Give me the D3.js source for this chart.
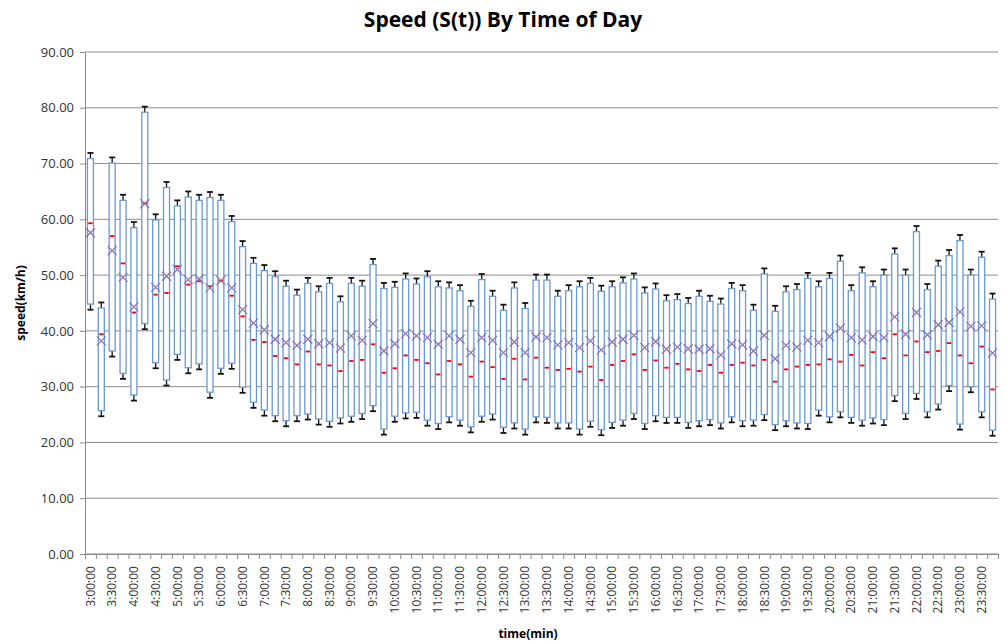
<!DOCTYPE html>
<html>
<head>
<meta charset="utf-8">
<script src="https://cdn.jsdelivr.net/npm/d3@7"></script>
<style>
  body { margin: 0; background: #fff; }
  svg text { font-family: "Open Sans", sans-serif; }
</style>
</head>
<body>
<div id="chart"></div>
<script>
// time of day categories, one box every 15 minutes
const times = [
  "3:00:00","3:15:00","3:30:00","3:45:00","4:00:00","4:15:00","4:30:00","4:45:00",
  "5:00:00","5:15:00","5:30:00","5:45:00","6:00:00","6:15:00","6:30:00","6:45:00",
  "7:00:00","7:15:00","7:30:00","7:45:00","8:00:00","8:15:00","8:30:00","8:45:00",
  "9:00:00","9:15:00","9:30:00","9:45:00","10:00:00","10:15:00","10:30:00","10:45:00",
  "11:00:00","11:15:00","11:30:00","11:45:00","12:00:00","12:15:00","12:30:00","12:45:00",
  "13:00:00","13:15:00","13:30:00","13:45:00","14:00:00","14:15:00","14:30:00","14:45:00",
  "15:00:00","15:15:00","15:30:00","15:45:00","16:00:00","16:15:00","16:30:00","16:45:00",
  "17:00:00","17:15:00","17:30:00","17:45:00","18:00:00","18:15:00","18:30:00","18:45:00",
  "19:00:00","19:15:00","19:30:00","19:45:00","20:00:00","20:15:00","20:30:00","20:45:00",
  "21:00:00","21:15:00","21:30:00","21:45:00","22:00:00","22:15:00","22:30:00","22:45:00",
  "23:00:00","23:15:00","23:30:00","23:45:00"
];

// box bottom / top (km/h)
const boxLow = [
  44.8,25.7,36.4,32.4,28.5,41.3,34.3,31.2,35.8,33.4,34.1,29.0,33.3,34.2,29.9,27.2,
  25.8,24.8,23.9,24.8,25.1,24.2,23.8,24.4,24.7,25.2,26.6,22.4,24.7,25.3,25.4,24.0,
  23.4,24.6,24.0,22.8,24.7,25.1,22.7,23.5,22.4,24.6,24.5,23.5,23.5,22.4,23.8,22.3,
  23.6,24.0,25.2,23.4,24.8,24.5,24.5,23.6,23.9,24.1,23.5,24.6,23.9,24.0,25.0,23.2,
  23.9,23.5,23.4,25.8,24.6,25.5,24.5,24.0,24.4,24.1,28.4,25.2,28.8,25.5,26.9,30.2,
  23.3,30.0,25.5,22.2
];
const boxHigh = [
  70.9,44.1,70.1,63.4,58.5,79.2,59.9,65.7,62.4,64.0,63.4,63.9,63.4,59.6,55.1,52.1,
  50.8,49.7,48.0,46.4,48.5,47.0,48.5,45.2,48.5,48.0,51.9,47.6,47.8,49.3,48.4,49.7,
  47.9,47.7,47.2,44.4,49.2,46.2,43.7,47.7,44.0,49.1,49.1,46.2,47.2,47.9,48.5,47.1,
  47.9,48.6,49.3,46.8,47.5,45.4,45.6,44.9,46.2,45.3,44.8,47.6,47.2,43.7,50.2,43.5,
  47.0,47.4,49.4,47.9,49.4,52.5,47.2,50.4,47.9,50.0,53.8,50.0,57.8,47.4,51.6,53.5,
  56.2,50.0,53.2,45.7
];
const medians = [
  59.3,39.4,57.0,52.1,43.3,62.9,46.5,46.8,51.6,48.3,48.9,48.0,49.0,46.3,42.6,38.4,
  38.0,35.5,35.1,34.0,36.3,34.0,33.8,32.8,34.6,34.8,37.6,32.5,33.3,35.6,34.8,34.2,
  32.2,34.6,34.0,31.8,34.5,33.5,31.4,35.0,31.3,35.2,33.4,33.0,33.2,32.7,33.6,31.2,
  33.9,34.6,35.8,33.0,34.7,33.4,34.1,33.1,32.8,33.9,32.5,33.9,34.3,33.8,34.8,30.9,
  33.1,33.6,33.9,34.0,34.9,34.5,35.7,33.8,36.2,35.1,39.4,35.6,38.1,36.2,36.4,37.8,
  35.6,34.2,37.2,29.5
];
const means = [
  57.6,38.2,54.4,49.6,44.3,62.8,47.8,49.8,51.0,49.2,49.3,47.7,49.0,47.7,43.8,41.4,
  40.2,38.5,37.9,37.4,38.5,37.7,37.9,36.9,39.1,38.3,41.3,36.4,37.7,39.5,39.1,38.8,
  37.6,39.1,38.5,36.1,38.8,38.3,36.1,38.0,36.1,38.9,38.8,37.5,37.9,37.0,38.2,36.6,
  38.0,38.5,39.2,37.0,38.1,36.7,37.1,36.8,36.7,36.8,35.7,37.7,37.5,36.4,39.2,35.0,
  37.4,37.1,38.3,37.9,39.0,40.5,38.8,38.4,39.0,38.8,42.5,39.4,43.3,39.3,41.1,41.5,
  43.4,40.8,40.9,36.0
];
// error bar length beyond the box (km/h)
const capExtra = 1.0;

const yTicks = [0, 10, 20, 30, 40, 50, 60, 70, 80, 90];

const W = 1006, H = 644;
const plotLeft = 85, plotRight = 998, plotTop = 52, plotBottom = 554;

const svg = d3.select('#chart').append('svg')
  .attr('width', W).attr('height', H);

const x = d3.scaleBand().domain(times).range([plotLeft, plotRight]);
const y = d3.scaleLinear().domain([0, 90]).range([plotBottom, plotTop]);

// horizontal grid
svg.append('g')
  .selectAll('line')
  .data(yTicks)
  .enter().append('line')
    .attr('x1', plotLeft).attr('x2', plotRight)
    .attr('y1', d => y(d)).attr('y2', d => y(d))
    .style('stroke', '#8c8c8c')
    .style('stroke-width', 1);

// y axis
const yAxis = svg.append('g')
  .attr('transform', `translate(${plotLeft},0)`)
  .call(d3.axisLeft(y).tickValues(yTicks).tickFormat(d3.format('.2f')).tickSize(5).tickPadding(6));
yAxis.select('.domain').style('stroke', '#8c8c8c');
yAxis.selectAll('.tick line').style('stroke', '#8c8c8c');
yAxis.selectAll('text').style('font-size', '13px').style('fill', '#333');

// x axis: ticks between categories
const xi = d3.scaleLinear().domain([0, times.length]).range([plotLeft, plotRight]);
const xTickAxis = svg.append('g')
  .attr('transform', `translate(0,${plotBottom})`)
  .call(d3.axisBottom(xi).tickValues(d3.range(times.length + 1)).tickFormat('').tickSize(5).tickSizeOuter(0));
xTickAxis.select('.domain').style('stroke', '#8c8c8c');
xTickAxis.selectAll('.tick line').style('stroke', '#8c8c8c');

// x labels every 30 minutes
const xLabelAxis = svg.append('g')
  .attr('transform', `translate(0,${plotBottom})`)
  .call(d3.axisBottom(x).tickValues(times.filter((d, i) => i % 2 === 0)).tickSize(0));
xLabelAxis.select('.domain').remove();
xLabelAxis.selectAll('text')
  .attr('transform', 'rotate(-90)')
  .attr('x', -12).attr('y', 0).attr('dy', '0.35em')
  .style('text-anchor', 'end')
  .style('font-size', '12px')
  .style('fill', '#333');

// boxes
const boxW = 6;
const g = svg.append('g');
times.forEach((t, i) => {
  const cx = x(t) + x.bandwidth() / 2;
  // whiskers
  [[boxHigh[i], boxHigh[i] + capExtra], [boxLow[i], boxLow[i] - capExtra]].forEach(([a, b]) => {
    g.append('line')
      .attr('x1', cx).attr('x2', cx).attr('y1', y(a)).attr('y2', y(b))
      .style('stroke', '#111').style('stroke-width', 1.3);
    g.append('line')
      .attr('x1', cx - 3).attr('x2', cx + 3).attr('y1', y(b)).attr('y2', y(b))
      .style('stroke', '#111').style('stroke-width', 1.8);
  });
  g.append('rect')
    .attr('x', cx - boxW / 2).attr('width', boxW)
    .attr('y', y(boxHigh[i])).attr('height', y(boxLow[i]) - y(boxHigh[i]))
    .style('fill', '#fff')
    .style('stroke', '#6a98d4')
    .style('stroke-width', 1.3);
  // median
  g.append('line')
    .attr('x1', cx - 2.2).attr('x2', cx + 2.2)
    .attr('y1', y(medians[i])).attr('y2', y(medians[i]))
    .style('stroke', '#ff0000').style('stroke-width', 1.8);
  // mean marker
  const my = y(means[i]), s = 4.5;
  g.append('path')
    .attr('d', `M${cx - s},${my - s}L${cx + s},${my + s}M${cx - s},${my + s}L${cx + s},${my - s}`)
    .style('stroke', '#8a70b0').style('stroke-width', 1.2).style('fill', 'none');
});

// titles
svg.append('text')
  .attr('x', 503).attr('y', 27)
  .attr('text-anchor', 'middle')
  .style('font-size', '21px').style('font-weight', 'bold').style('fill', '#000')
  .text('Speed (S(t)) By Time of Day');

svg.append('text')
  .attr('transform', `translate(25,${(plotTop + plotBottom) / 2}) rotate(-90)`)
  .attr('text-anchor', 'middle')
  .style('font-size', '12px').style('font-weight', 'bold').style('fill', '#000')
  .text('speed(km/h)');

svg.append('text')
  .attr('x', 528).attr('y', 638)
  .attr('text-anchor', 'middle')
  .style('font-size', '12px').style('font-weight', 'bold').style('fill', '#000')
  .text('time(min)');
</script>
</body>
</html>
